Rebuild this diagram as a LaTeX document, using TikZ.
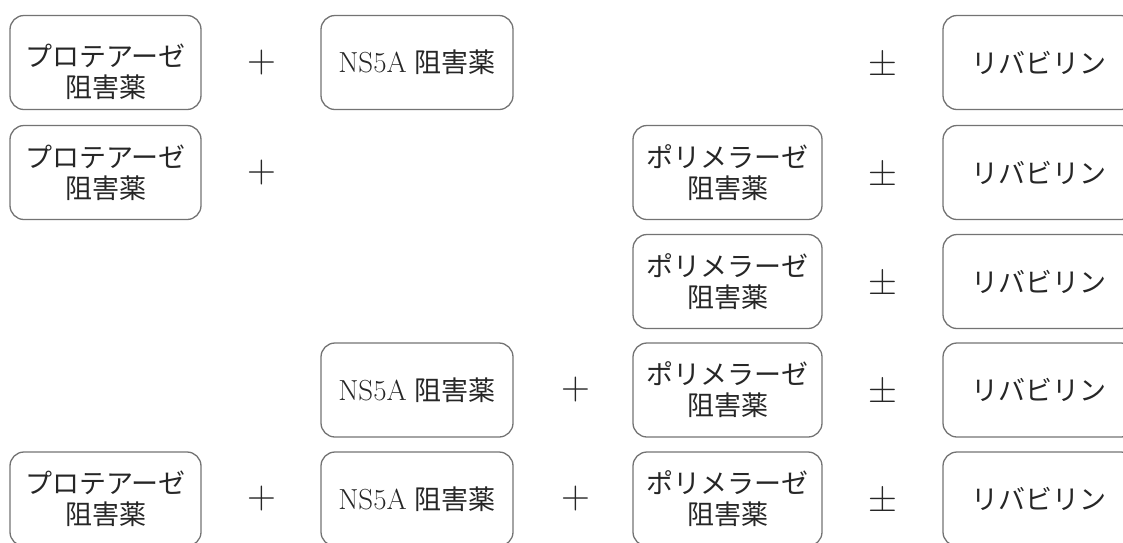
\documentclass[tikz,border=0pt]{standalone}
\usepackage{fontspec}
\newfontfamily\cjk{Noto Sans CJK JP}
\begin{document}
\begin{tikzpicture}[x=1pt,y=-1pt,
  box/.style={draw=black!55, line width=1.3pt, rounded corners=14pt,
    minimum height=94pt, inner sep=0pt, align=center, text=black!85,
    font=\fontsize{27}{31}\selectfont},
  colA/.style={box, minimum width=191pt},
  colB/.style={box, minimum width=192pt},
  colC/.style={box, minimum width=189pt},
  colD/.style={box, minimum width=192pt},
  txt/.style={inner sep=0pt, align=center, text=black!85,
    font=\fontsize{27}{31}\selectfont},
  op/.style={inner sep=0pt, text=black!85, font=\fontsize{40}{40}\selectfont}]
\useasboundingbox (0,0) rectangle (1123,542);
\clip (0,0) rectangle (1123,542);
\def\pro{{\cjk プロテアーゼ}\\{\cjk 阻害薬}}
\def\pol{{\cjk ポリメラーゼ}\\{\cjk 阻害薬}}
\def\nsa{{\fontsize{29}{30}\selectfont NS5A}\hspace{8pt}{\cjk 阻害薬}}
\def\rib{{\cjk リバビリン}}
% row 1
\node[colA] (a1) at (105.5,62.5) {};
\node[txt]  (a1t) at ([yshift=-9pt]a1.center) {\pro};
\node[op]   (p1) at (262,62.5) {+};
\node[colB] (b1) at (417,62.5) {\nsa};
\node[op]   (pm1) at (883,62.5) {±};
\node[colD] (d1) at (1039,62.5) {\rib};
% row 2
\node[colA] (a2) at (105.5,172.5) {\pro};
\node[op]   (p2) at (262,172.5) {+};
\node[colC] (c2) at (727.5,172.5) {\pol};
\node[op]   (pm2) at (883,172.5) {±};
\node[colD] (d2) at (1039,172.5) {\rib};
% row 3
\node[colC] (c3) at (727.5,281.5) {\pol};
\node[op]   (pm3) at (883,281.5) {±};
\node[colD] (d3) at (1039,281.5) {\rib};
% row 4
\node[colB] (b4) at (417,390) {\nsa};
\node[op]   (p4) at (576,390) {+};
\node[colC] (c4) at (727.5,390) {\pol};
\node[op]   (pm4) at (883,390) {±};
\node[colD] (d4) at (1039,390) {\rib};
% row 5
\node[colA] (a5) at (105.5,499) {\pro};
\node[op]   (p5a) at (262,499) {+};
\node[colB] (b5) at (417,499) {\nsa};
\node[op]   (p5b) at (576,499) {+};
\node[colC] (c5) at (727.5,499) {\pol};
\node[op]   (pm5) at (883,499) {±};
\node[colD] (d5) at (1039,499) {\rib};
\end{tikzpicture}
\end{document}
